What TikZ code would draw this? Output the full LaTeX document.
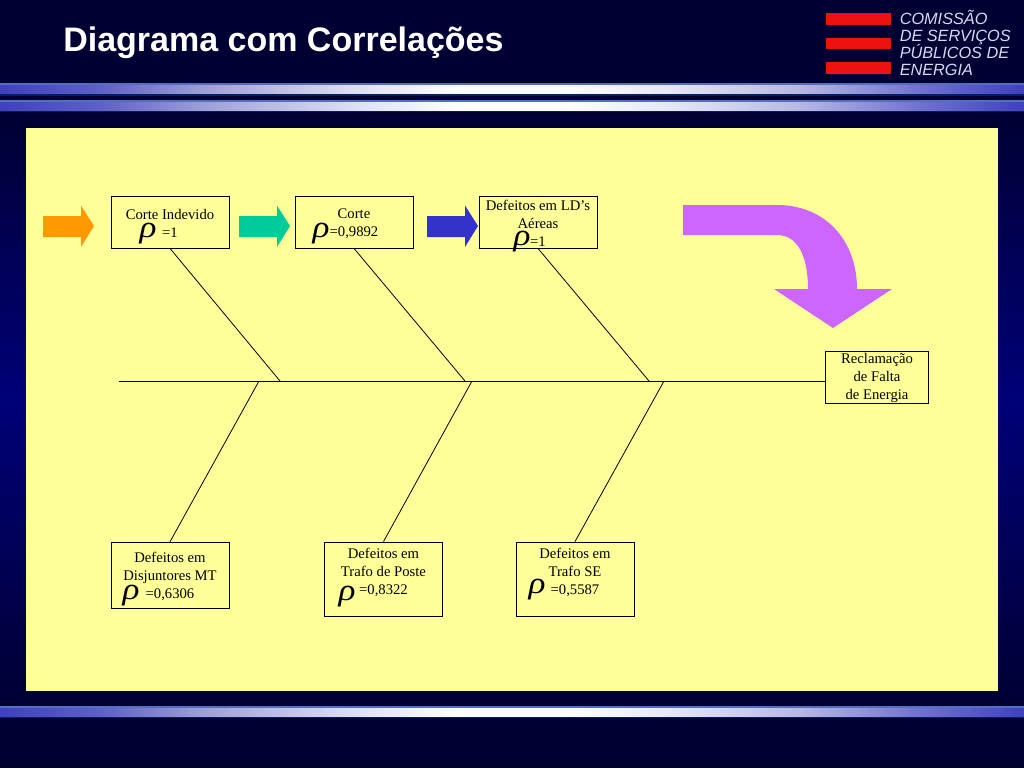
\documentclass[tikz,border=0pt]{standalone}
\usepackage{fontspec}
\setmainfont{Liberation Serif}
\setsansfont{Liberation Sans}
\newfontfamily\rhofont[ItalicFont=*-Italic]{Liberation Serif}
\definecolor{navytop}{HTML}{000033}
\definecolor{navymid}{HTML}{000078}
\definecolor{panel}{HTML}{FFFF99}
\definecolor{banddark}{HTML}{002060}
\definecolor{bandedge}{HTML}{5070C0}
\definecolor{logored}{HTML}{EE1111}
\definecolor{logotext}{HTML}{D8D8F0}
\definecolor{arrorange}{HTML}{FF9900}
\definecolor{arrgreen}{HTML}{00CC99}
\definecolor{arrblue}{HTML}{3333CC}
\definecolor{arrpurple}{HTML}{CC66FF}
\definecolor{bsa}{HTML}{4040C0}
\definecolor{bsb}{HTML}{6060C8}
\definecolor{bsc}{HTML}{A0A0D8}
\definecolor{bsd}{HTML}{E0E0F4}
\definecolor{bse}{HTML}{FFFFFF}
\definecolor{bsf}{HTML}{E8E8F6}
\definecolor{bsg}{HTML}{B8B8E4}
\definecolor{bsh}{HTML}{7070D0}
\pgfdeclarehorizontalshading[bsa,bsb,bsc,bsd,bse,bsf,bsg,bsh]{bandshade}{100bp}{
  color(0bp)=(bsa);
  color(25bp)=(bsa);
  color(30bp)=(bsb);
  color(35bp)=(bsc);
  color(42.5bp)=(bsd);
  color(47.5bp)=(bse);
  color(52.5bp)=(bse);
  color(57.5bp)=(bsf);
  color(64bp)=(bsg);
  color(70bp)=(bsh);
  color(75bp)=(bsa);
  color(100bp)=(bsa)}
\newcommand{\boxtop}{\rule{0pt}{9.7pt}}
\tikzset{
  box/.style={draw=black,line width=0.6pt,align=center,inner sep=0pt,
    font=\fontsize{11}{13.5}\selectfont,text=black},
  rhomark/.style={inner sep=0pt,xscale=1.15,font=\rhofont\itshape\fontsize{23}{23}\selectfont,text=black},
  rib/.style={draw=black,line width=0.6pt},
  logoline/.style={anchor=base west,inner sep=0pt,text=logotext,
    font=\sffamily\itshape\fontsize{12.2}{12.2}\selectfont},
}
\begin{document}
\begin{tikzpicture}[x=0.75pt,y=-0.75pt]
\useasboundingbox (0,0) rectangle (1024,768);
% background
\fill[navytop] (0,0) rectangle (1024,768);
\shade[top color=navytop,bottom color=navymid] (0,112) rectangle (1024,400);
\shade[top color=navymid,bottom color=navytop] (0,400) rectangle (1024,706);
% bands
\foreach \t/\m/\b/\e in {83/85.5/93.5/96,100/102/110/112,706/708.5/716/718}{
  \fill[banddark] (0,\t) rectangle (1024,\e);
  \fill[bandedge] (0,\t) rectangle (1024,\m);
  \shade[shading=bandshade] (0,\m) rectangle (1024,\b);
}
% title
\node[anchor=base west,inner sep=0pt,text=white,font=\sffamily\bfseries\fontsize{25.5}{25.5}\selectfont] (title) at (63,51) {Diagrama com Correlações};
% logo
\foreach \y in {13,37.5,62}{\fill[logored] (826,\y) rectangle (891,\y+11.5);}
\node[logoline] (logoa) at (899.5,24.5) {COMISSÃO};
\node[logoline] (logob) at (899.5,41.5) {DE SERVIÇOS};
\node[logoline] (logoc) at (899.5,58.5) {PÚBLICOS DE};
\node[logoline] (logod) at (899.5,75) {ENERGIA};
% panel
\fill[panel] (26,128) rectangle (998,691);
% straight arrows
\foreach \x/\c in {43/arrorange,239/arrgreen,427/arrblue}{
  \fill[\c] (\x,216) -- (\x+38,216) -- (\x+38,205.5) -- (\x+51,226) -- (\x+38,247) -- (\x+38,237) -- (\x,237) -- cycle;
}
% curved arrow
\fill[arrpurple] (683,205) -- (777,205) .. controls (825,205) and (857,240) .. (857,289)
  -- (892,289) -- (833,328) -- (774,289) -- (808,289) .. controls (808,255) and (797,235) .. (777,235) -- (683,235) -- cycle;
% boxes
\node[box,minimum width=88.5pt,minimum height=39pt] (a) at (170,222) {\boxtop Corte Indevido\\=1};
\node[box,minimum width=88.5pt,minimum height=39pt] (b) at (354,222) {\boxtop Corte\\=0,9892};
\node[box,minimum width=88.5pt,minimum height=39pt] (c) at (538,222) {\boxtop Defeitos em LD’s\\Aéreas\\=1};
\node[box,minimum width=77.5pt,minimum height=39pt] (effect) at (877,377) {\boxtop Reclamação\\de Falta\\de Energia};
\node[box,minimum width=88.5pt,minimum height=50pt] (d) at (170,575.5) {\boxtop Defeitos em\\Disjuntores MT\\=0,6306};
\node[box,minimum width=88.5pt,minimum height=55.5pt] (e) at (383.5,579) {\boxtop Defeitos em\\Trafo de Poste\\=0,8322\\ ~};
\node[box,minimum width=88.5pt,minimum height=55.5pt] (f) at (575,579) {\boxtop Defeitos em\\Trafo SE\\=0,5587\\ ~};
% rho marks
\node[rhomark] (ra) at (148,234) {ρ};
\node[rhomark] (rb) at (321,234) {ρ};
\node[rhomark] (rc) at (522,242) {ρ};
\node[rhomark] (rd) at (131,596) {ρ};
\node[rhomark] (re) at (347,597) {ρ};
\node[rhomark] (rf) at (537,590) {ρ};
% spine and ribs
\coordinate (tail) at (119,381);
\coordinate (ja) at (280,381);
\coordinate (jb) at (465,381);
\coordinate (jc) at (649,381);
\coordinate (jd) at (259,381);
\coordinate (je) at (472,381);
\coordinate (jf) at (664,381);
\draw[rib] (tail) -- (tail -| effect.west);
\draw[rib] (a.south) -- (ja);
\draw[rib] (b.south) -- (jb);
\draw[rib] (c.south) -- (jc);
\draw[rib] (d.north) -- (jd);
\draw[rib] (e.north) -- (je);
\draw[rib] (f.north) -- (jf);
\end{tikzpicture}
\end{document}
